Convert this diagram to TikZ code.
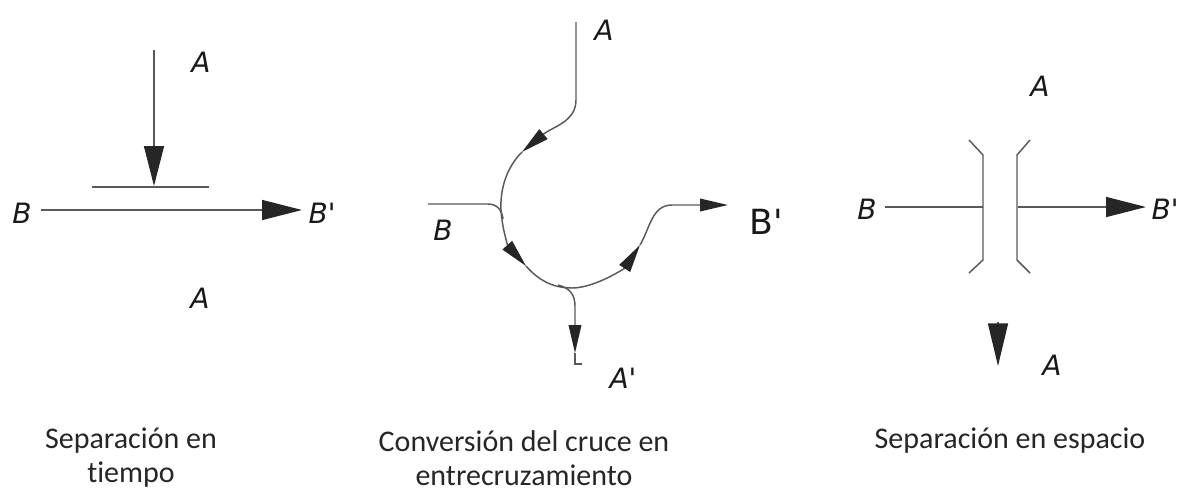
\documentclass[tikz,border=0pt]{standalone}
\usepackage{fontspec}
\setmainfont[Ligatures=NoCommon]{Carlito}
\newfontfamily\handfont{DejaVu Sans}
\usetikzlibrary{arrows.meta}

\tikzset{
  flow/.style={draw=black!65, line width=1.1pt},
  letter/.style={font=\handfont\itshape\fontsize{21}{24}\selectfont, text=black!90},
  caption/.style={font=\fontsize{22.5}{25.5}\selectfont, text=black!85, align=center},
  bigtip/.style={-{Triangle[length=30pt,width=15pt,color=black!85]}},
  smalltip/.style={-{Triangle[length=21pt,width=9.5pt,color=black!85]}}
}

\begin{document}
\begin{tikzpicture}[x=0.75pt, y=-0.75pt]
    \useasboundingbox (0,0) rectangle (1182,493);

    % Separacion en tiempo
    \coordinate (a1top) at (154,50);
    \coordinate (a1end) at (154,186);
    \coordinate (bar1l) at (92,187);
    \coordinate (bar1r) at (209,187);
    \coordinate (b1start) at (41,210);
    \coordinate (b1end) at (302,210);
    \draw[flow, bigtip] (a1top) -- (a1end);
    \draw[flow, line width=2pt] (bar1l) -- (bar1r);
    \draw[flow, bigtip] (b1start) -- (b1end);
    \node[letter] (a1in) at (201,62) {A};
    \node[letter] (a1out) at (200,298) {A};
    \node[letter] (b1in) at (22,213) {B};
    \node[letter] (b1out) at (322,213) {B'};

    % Conversion del cruce en entrecruzamiento
    \coordinate (a2top) at (576,22);
    \coordinate (a2mid) at (522,152);
    \coordinate (a2low) at (526,266);
    \coordinate (a2turn) at (640,245);
    \coordinate (a2join) at (558,285);
    \coordinate (a2tip) at (575,353);
    \coordinate (a2foot) at (575,364);
    \coordinate (b2start) at (428,204);
    \coordinate (b2merge) at (503,219);
    \coordinate (b2end) at (728,205);
    \draw[flow, smalltip] (a2top) -- (576,100)
        .. controls (576,122) and (552,127) .. (a2mid);
    \draw[flow, smalltip] (a2mid) .. controls (506,168) and (500,190) .. (501,210)
        .. controls (502,228) and (508,246) .. (a2low);
    \draw[flow, smalltip] (a2low) .. controls (540,282) and (555,288) .. (572,288)
        .. controls (595,288) and (625,268) .. (a2turn);
    \draw[flow, smalltip] (a2turn) .. controls (650,228) and (652,205) .. (672,205) -- (b2end);
    \draw[flow] (b2start) -- (488,204) .. controls (497,204) and (502,210) .. (b2merge);
    \draw[flow, smalltip] (a2join) .. controls (570,288) and (575,295) .. (575,306) -- (a2tip);
    \draw[flow] (a2tip) -- (a2foot) -- (582,364);
    \node[letter] (a2in) at (604,30) {A};
    \node[letter] (a2out) at (623,378) {A'};
    \node[letter] (b2in) at (443,230) {B};
    \node[letter, font=\handfont\fontsize{26}{28}\selectfont] (b2out) at (766,222) {B'};

    % Separacion en espacio
    \coordinate (b3start) at (885,207);
    \coordinate (b3stop) at (983,207);
    \coordinate (b3resume) at (1018,207);
    \coordinate (b3end) at (1146,207);
    \draw[flow] (b3start) -- (b3stop);
    \draw[flow, bigtip] (b3resume) -- (b3end);
    \draw[flow] (969,140) -- (983,155) -- (983,260) -- (969,273);
    \draw[flow] (1030,140) -- (1017,155) -- (1017,260) -- (1030,273);
    \coordinate (a3tiptop) at (998,322);
    \coordinate (a3tip) at (998,366);
    \draw[flow, -{Triangle[length=32pt,width=15pt,color=black!85]}] (a3tiptop) -- (a3tip);
    \node[letter] (a3in) at (1040,86) {A};
    \node[letter] (a3out) at (1052,365) {A};
    \node[letter] (b3in) at (867,209) {B};
    \node[letter] (b3out) at (1165,209) {B'};

    % captions
    \node[caption] (cap1) at (131,458) {Separación en\\tiempo};
    \node[caption] (cap2) at (524,458) {Conversión del cruce en\\entrecruzamiento};
    \node[caption] (cap3) at (1010,441) {Separación en espacio};
\end{tikzpicture}
\end{document}
